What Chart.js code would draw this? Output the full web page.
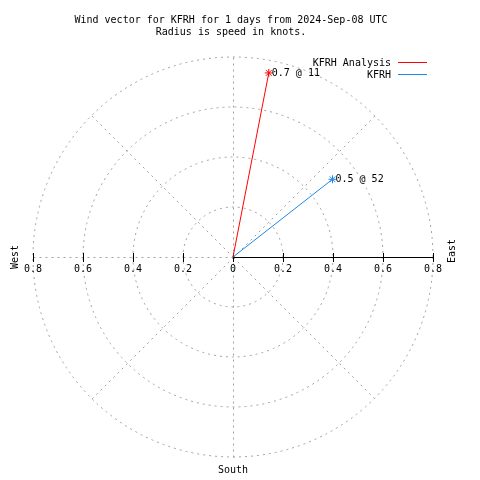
<!DOCTYPE html>
<html>
<head>
<meta charset="utf-8">
<script src="https://cdn.jsdelivr.net/npm/chart.js@4/dist/chart.umd.min.js"></script>
<style>
  body { margin: 0; background: #fff; }
  #wrap { width: 480px; height: 480px; }
</style>
</head>
<body>
<div id="wrap"><canvas id="windChart" width="480" height="480"></canvas></div>
<script>
// Wind vector data
var seriesNames = ['KFRH Analysis', 'KFRH'];
var speeds = [0.75, 0.505];       // knots
var directions = [11, 52];        // degrees from north
var pointLabels = ['0.7 @ 11', '0.5 @ 52'];
var seriesColors = ['#ff0000', 'rgb(30,136,229)'];

// Axis / grid values
var tickValues = [-0.8, -0.6, -0.4, -0.2, 0, 0.2, 0.4, 0.6, 0.8];
var ringValues = [0.2, 0.4, 0.6, 0.8];
var spokeAngles = [0, 45, 90, 135, 180, 225, 270, 315];
var titleLines = ['Wind vector for KFRH for 1 days from 2024-Sep-08 UTC', 'Radius is speed in knots.'];

var FONT = '10px "DejaVu Sans Mono", "Liberation Mono", monospace';
var GRID = '#a0a0a0';

function toXY(speed, dir) {
  var rad = dir * Math.PI / 180;
  return { x: speed * Math.sin(rad), y: speed * Math.cos(rad) };
}

var datasets = [];
for (var i = 0; i < seriesNames.length; i++) {
  var end = toXY(speeds[i], directions[i]);
  datasets.push({
    label: seriesNames[i],
    data: [{ x: 0, y: 0 }, end],
    showLine: true,
    borderColor: seriesColors[i],
    backgroundColor: seriesColors[i],
    borderWidth: 1,
    pointStyle: 'star',
    pointRadius: [0, 4],
    pointBorderWidth: 1,
    pointHoverRadius: [0, 4]
  });
}

// Polar grid, axis, labels
var polarPlugin = {
  id: 'polarGrid',
  beforeDatasetsDraw: function(chart) {
    var ctx = chart.ctx;
    var xs = chart.scales.x, ys = chart.scales.y;
    var cx = xs.getPixelForValue(0), cy = ys.getPixelForValue(0);
    var unit = xs.getPixelForValue(1) - cx;
    var maxR = ringValues[ringValues.length - 1] * unit;
    ctx.save();
    ctx.strokeStyle = GRID;
    ctx.lineWidth = 1;
    ctx.setLineDash([2, 4]);
    ringValues.forEach(function(r) {
      ctx.beginPath();
      ctx.arc(cx, cy, r * unit, 0, Math.PI * 2);
      ctx.stroke();
    });
    spokeAngles.forEach(function(a) {
      if (a == 90) return; // east half drawn solid below
      var rad = a * Math.PI / 180;
      ctx.beginPath();
      ctx.moveTo(cx + 0.5, cy + 0.5);
      ctx.lineTo(cx + 0.5 + maxR * Math.sin(rad), cy + 0.5 - maxR * Math.cos(rad));
      ctx.stroke();
    });
    ctx.setLineDash([]);
    // solid axis east
    ctx.strokeStyle = '#000';
    ctx.beginPath();
    ctx.moveTo(cx, Math.round(cy) + 0.5);
    ctx.lineTo(cx + maxR, Math.round(cy) + 0.5);
    ctx.stroke();
    // ticks
    tickValues.forEach(function(v) {
      var px = Math.round(xs.getPixelForValue(v)) + 0.5;
      ctx.beginPath();
      ctx.moveTo(px, cy - 4);
      ctx.lineTo(px, cy + 5);
      ctx.stroke();
    });
    ctx.restore();
  },
  afterDatasetsDraw: function(chart) {
    var ctx = chart.ctx;
    var xs = chart.scales.x, ys = chart.scales.y;
    var cx = xs.getPixelForValue(0), cy = ys.getPixelForValue(0);
    ctx.save();
    ctx.font = FONT;
    ctx.fillStyle = '#000';
    ctx.textBaseline = 'middle';
    // tick labels
    ctx.textAlign = 'center';
    tickValues.forEach(function(v) {
      ctx.fillText(String(Math.abs(v)), xs.getPixelForValue(v), cy + 12);
    });
    // point labels
    ctx.textAlign = 'left';
    for (var i = 0; i < speeds.length; i++) {
      var p = toXY(speeds[i], directions[i]);
      ctx.fillText(pointLabels[i], xs.getPixelForValue(p.x) + 3, ys.getPixelForValue(p.y));
    }
    // compass labels
    ctx.textAlign = 'center';
    ctx.fillText('South', cx, 470);
    ctx.save();
    ctx.translate(15, cy);
    ctx.rotate(-Math.PI / 2);
    ctx.fillText('West', 0, 0);
    ctx.restore();
    ctx.save();
    ctx.translate(452, cy - 6);
    ctx.rotate(-Math.PI / 2);
    ctx.fillText('East', 0, 0);
    ctx.restore();
    // title
    ctx.fillText(titleLines[0], 231, 20);
    ctx.fillText(titleLines[1], 231, 32);
    // legend
    for (var j = 0; j < seriesNames.length; j++) {
      var ly = 63 + j * 12;
      ctx.textAlign = 'right';
      ctx.fillText(seriesNames[j], 391, ly);
      ctx.strokeStyle = seriesColors[j];
      ctx.lineWidth = 1;
      ctx.beginPath();
      ctx.moveTo(398, Math.round(ly) - 0.5);
      ctx.lineTo(427, Math.round(ly) - 0.5);
      ctx.stroke();
    }
    ctx.restore();
  }
};

var chart = new Chart(document.getElementById('windChart'), {
  type: 'scatter',
  data: { datasets: datasets },
  options: {
    responsive: false,
    animation: false,
    layout: { padding: { left: 33, top: 57, right: 47, bottom: 23 } },
    scales: {
      x: { display: false, min: -0.8, max: 0.8 },
      y: { display: false, min: -0.8, max: 0.8 }
    },
    plugins: {
      legend: { display: false },
      title: { display: false },
      tooltip: { enabled: false }
    }
  },
  plugins: [polarPlugin]
});
</script>
</body>
</html>
